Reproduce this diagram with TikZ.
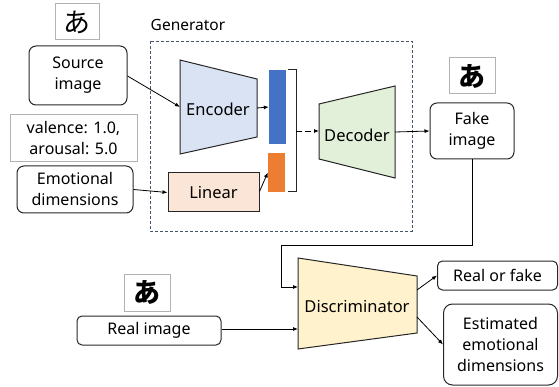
\documentclass[tikz,border=0pt]{standalone}
\usepackage{fontspec}
\setmainfont{Noto Sans}
\newfontfamily\jp{Noto Sans CJK JP}
\usetikzlibrary{arrows.meta}
\definecolor{encfill}{HTML}{DAE3F3}
\definecolor{decfill}{HTML}{E2F0D9}
\definecolor{linfill}{HTML}{FBE5D6}
\definecolor{disfill}{HTML}{FFF2CC}
\definecolor{barblue}{HTML}{4472C4}
\definecolor{barorange}{HTML}{ED7D31}
\definecolor{gendash}{HTML}{44546A}
\tikzset{
  rbox/.style={draw=black!85, line width=1pt, rounded corners=7pt, align=center, inner sep=0pt, font=\fontsize{16}{21}\selectfont},
  gbox/.style={draw=black!30, line width=1pt, align=center, inner sep=0pt},
  conn/.style={line width=0.8pt, -{Latex[length=5pt,width=4pt]}},
  trap/.style={draw=black!85, line width=1pt},
  lbl/.style={font=\fontsize{16.5}{21}\selectfont, inner sep=0pt}
}
\begin{document}
\begin{tikzpicture}[x=1pt,y=-1pt]
\useasboundingbox (0,0) rectangle (559,387);
% Generator frame
\draw[gendash, line width=0.9pt, dash pattern=on 3pt off 2pt] (150,41) rectangle (412,231);
\node[font=\fontsize{15.5}{18}\selectfont, inner sep=0pt] (genlbl) at (188,25) {Generator};
% image glyph boxes
\node[gbox, minimum width=44pt, minimum height=36pt, font=\jp\fontsize{27}{28}\selectfont] (glyph1) at (77,22) {あ};
\node[gbox, minimum width=46pt, minimum height=36pt, font=\jp\bfseries\fontsize{27}{28}\selectfont] (glyph2) at (472,76) {あ};
\node[gbox, minimum width=46pt, minimum height=37pt, font=\jp\bfseries\fontsize{27}{28}\selectfont] (glyph3) at (147,292.5) {あ};
% input boxes
\node[rbox, minimum width=98pt, minimum height=59pt] (src) at (78,75.5) {Source\\image};
\node[gbox, minimum width=127pt, minimum height=47pt, font=\fontsize{16}{21}\selectfont] (val) at (73.5,138.5) {valence: 1.0,\\arousal: 5.0};
\node[rbox, minimum width=116pt, minimum height=47pt] (emo) at (75,189.5) {Emotional\\dimensions};
\node[draw=black!85, line width=1pt, fill=linfill, minimum width=91pt, minimum height=39pt, inner sep=0pt, font=\fontsize{16.5}{21}\selectfont] (lin) at (213.5,192.5) {Linear};
% Encoder
\coordinate (e1) at (180,60); \coordinate (e2) at (257,79);
\coordinate (e3) at (257,137); \coordinate (e4) at (180,154);
\draw[trap, fill=encfill] (e1) -- (e2) -- (e3) -- (e4) -- cycle;
\node[lbl] (enc) at (218,109) {Encoder};
\coordinate (encin) at (180,107);
\coordinate (encout) at (257,108);
% bars
\node[fill=barblue, minimum width=17pt, minimum height=74pt, inner sep=0pt] (bblue) at (277.5,107) {};
\node[fill=barorange, minimum width=17pt, minimum height=39pt, inner sep=0pt] (borange) at (276.5,172.5) {};
% bracket
\coordinate (b1) at (288,70); \coordinate (b2) at (296,70);
\coordinate (b3) at (296,192); \coordinate (b4) at (288,192);
\coordinate (bmid) at (296,131);
\draw[line width=1pt, black!85] (b1) -- (b2) -- (b3) -- (b4);
% Decoder
\coordinate (d1) at (319,104); \coordinate (d2) at (395,86);
\coordinate (d3) at (395,178); \coordinate (d4) at (319,159);
\draw[trap, fill=decfill] (d1) -- (d2) -- (d3) -- (d4) -- cycle;
\node[lbl] (dec) at (357,135) {Decoder};
\coordinate (decin) at (319,131);
\coordinate (decout) at (395,132);
% Fake image
\node[rbox, minimum width=84pt, minimum height=56pt] (fake) at (472,131) {Fake\\image};
% Discriminator
\coordinate (s1) at (298,258); \coordinate (s2) at (417,276);
\coordinate (s3) at (417,333); \coordinate (s4) at (298,349);
\draw[trap, fill=disfill] (s1) -- (s2) -- (s3) -- (s4) -- cycle;
\node[lbl] (dis) at (357,307) {Discriminator};
\coordinate (disin1) at (298,287);
\coordinate (disin2) at (298,329);
\coordinate (disout1) at (417,290);
\coordinate (disout2) at (417,317);
\coordinate (turn1) at (472,245);
\coordinate (turn2) at (281,245);
% Real image and outputs
\node[rbox, rounded corners=5pt, minimum width=144pt, minimum height=29pt] (real) at (149,330.5) {Real image};
\node[rbox, rounded corners=5pt, minimum width=120pt, minimum height=29pt] (rof) at (497.5,275.5) {Real or fake};
\node[rbox, rounded corners=9pt, minimum width=114pt, minimum height=81pt] (est) at (500.5,344.5) {Estimated\\emotional\\dimensions};
% connectors
\draw[conn] (src.east) ++(0,0.5) -- (encin);
\draw[conn] (emo.east) -- (lin.west);
\draw[conn] (encout) -- (bblue.west);
\draw[conn] (lin.east) ++(0,-1) -- (borange.west);
\draw[conn, dash pattern=on 6pt off 3pt] (bmid) -- (decin);
\draw[conn] (decout) -- (fake.west);
\draw[conn] (fake.south) -- (turn1) -- (turn2) |- (disin1);
\draw[conn] (real.east) ++(0,-1.5) -- (disin2);
\draw[conn] (disout1) -- (rof.west);
\draw[conn] (disout2) -- (est.west);
\end{tikzpicture}
\end{document}
